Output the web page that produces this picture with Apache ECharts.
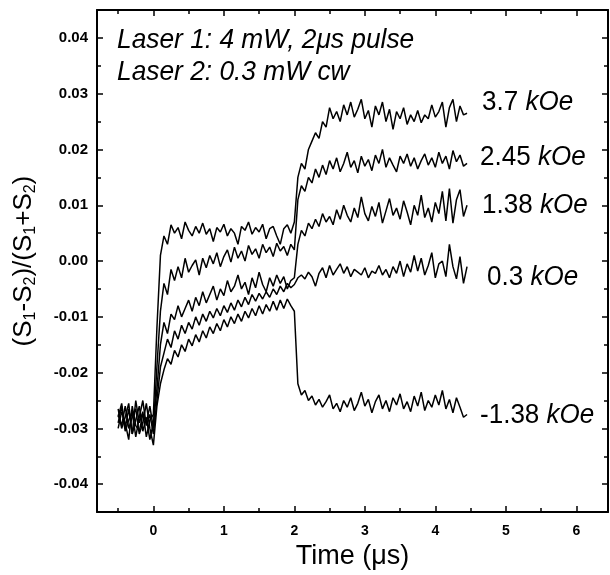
<!DOCTYPE html>
<html><head><meta charset="utf-8">
<script src="https://cdn.jsdelivr.net/npm/echarts@6/dist/echarts.min.js"></script>
<style>html,body{margin:0;padding:0;background:#fff}#c{width:610px;height:575px}</style>
</head><body><div id="c"></div>
<script>
// Time in microseconds
const time = [-0.5,-0.45,-0.4,-0.35,-0.3,-0.25,-0.2,-0.15,-0.1,-0.05,
0,0.05,0.1,0.15,0.2,0.25,0.3,0.35,0.4,0.45,
0.5,0.55,0.6,0.65,0.7,0.75,0.8,0.85,0.9,0.95,
1,1.05,1.1,1.15,1.2,1.25,1.3,1.35,1.4,1.45,
1.5,1.55,1.6,1.65,1.7,1.75,1.8,1.85,1.9,1.95,
2,2.05,2.1,2.15,2.2,2.25,2.3,2.35,2.4,2.45,
2.5,2.55,2.6,2.65,2.7,2.75,2.8,2.85,2.9,2.95,
3,3.05,3.1,3.15,3.2,3.25,3.3,3.35,3.4,3.45,
3.5,3.55,3.6,3.65,3.7,3.75,3.8,3.85,3.9,3.95,
4,4.05,4.1,4.15,4.2,4.25,4.3,4.35,4.4,4.45];

const s37 = [-0.0280,-0.0255,-0.0300,-0.0265,-0.0310,-0.0250,-0.0290,-0.0270,-0.0315,-0.0285,
-0.0275,-0.0120,0.0010,0.0045,0.0030,0.0065,0.0050,0.0060,0.0040,0.0070,
0.0055,0.0045,0.0062,0.0050,0.0068,0.0048,0.0058,0.0035,0.0060,0.0052,
0.0066,0.0045,0.0058,0.0050,0.0030,0.0062,0.0055,0.0070,0.0048,0.0060,
0.0052,0.0066,0.0040,0.0058,0.0062,0.0045,0.0030,0.0058,0.0065,0.0050,
0.0070,0.0150,0.0175,0.0165,0.0200,0.0215,0.0230,0.0220,0.0250,0.0240,
0.0275,0.0255,0.0268,0.0250,0.0280,0.0262,0.0285,0.0258,0.0272,0.0290,
0.0255,0.0270,0.0240,0.0278,0.0262,0.0285,0.0250,0.0272,0.0236,0.0268,
0.0255,0.0275,0.0245,0.0262,0.0250,0.0270,0.0248,0.0262,0.0255,0.0280,
0.0258,0.0268,0.0285,0.0240,0.0275,0.0290,0.0250,0.0278,0.0262,0.0265];

const s245 = [-0.0300,-0.0270,-0.0290,-0.0320,-0.0260,-0.0295,-0.0305,-0.0275,-0.0290,-0.0260,
-0.0300,-0.0190,-0.0090,-0.0040,-0.0060,-0.0015,-0.0035,-0.0010,-0.0030,0.0005,
-0.0020,-0.0008,0.0002,-0.0025,0.0005,-0.0012,0.0010,-0.0005,0.0015,-0.0010,
0.0008,0.0020,-0.0002,0.0025,0.0005,0.0018,0.0000,0.0028,0.0012,0.0022,
0.0005,0.0030,0.0015,0.0025,0.0008,0.0032,0.0018,0.0026,0.0010,0.0030,
0.0020,0.0110,0.0135,0.0125,0.0150,0.0140,0.0165,0.0150,0.0172,0.0155,
0.0180,0.0165,0.0185,0.0160,0.0175,0.0195,0.0168,0.0180,0.0158,0.0188,
0.0170,0.0182,0.0162,0.0190,0.0175,0.0200,0.0168,0.0185,0.0172,0.0160,
0.0188,0.0175,0.0192,0.0170,0.0185,0.0165,0.0180,0.0192,0.0172,0.0185,
0.0168,0.0195,0.0175,0.0188,0.0165,0.0198,0.0178,0.0190,0.0170,0.0175];

const s138 = [-0.0265,-0.0300,-0.0280,-0.0255,-0.0310,-0.0285,-0.0260,-0.0305,-0.0280,-0.0320,
-0.0290,-0.0230,-0.0150,-0.0110,-0.0130,-0.0095,-0.0105,-0.0080,-0.0100,-0.0085,
-0.0070,-0.0090,-0.0065,-0.0080,-0.0055,-0.0075,-0.0060,-0.0045,-0.0070,-0.0050,
-0.0062,-0.0035,-0.0055,-0.0045,-0.0025,-0.0050,-0.0038,-0.0060,-0.0030,-0.0048,
-0.0020,-0.0042,-0.0055,-0.0030,-0.0045,-0.0025,-0.0040,-0.0028,-0.0050,-0.0035,
-0.0030,0.0030,0.0055,0.0045,0.0068,0.0058,0.0075,0.0062,0.0085,0.0070,
0.0080,0.0065,0.0092,0.0075,0.0100,0.0082,0.0070,0.0095,0.0078,0.0115,
0.0085,0.0072,0.0098,0.0080,0.0105,0.0068,0.0090,0.0112,0.0082,0.0095,
0.0075,0.0108,0.0088,0.0065,0.0100,0.0082,0.0118,0.0078,0.0095,0.0070,
0.0105,0.0085,0.0125,0.0072,0.0130,0.0068,0.0110,0.0128,0.0080,0.0100];

const s03 = [-0.0290,-0.0260,-0.0305,-0.0285,-0.0270,-0.0315,-0.0280,-0.0250,-0.0295,-0.0275,
-0.0310,-0.0250,-0.0190,-0.0165,-0.0140,-0.0155,-0.0125,-0.0140,-0.0115,-0.0130,
-0.0110,-0.0122,-0.0100,-0.0115,-0.0095,-0.0108,-0.0090,-0.0102,-0.0085,-0.0098,
-0.0080,-0.0092,-0.0075,-0.0088,-0.0070,-0.0082,-0.0065,-0.0078,-0.0060,-0.0072,
-0.0058,-0.0068,-0.0055,-0.0065,-0.0050,-0.0060,-0.0045,-0.0055,-0.0040,-0.0048,
-0.0042,-0.0030,-0.0025,-0.0032,-0.0020,-0.0028,-0.0045,-0.0022,-0.0012,-0.0030,
-0.0008,-0.0025,-0.0015,-0.0005,-0.0022,-0.0010,-0.0028,-0.0015,-0.0020,-0.0025,
-0.0012,-0.0030,-0.0018,-0.0022,-0.0008,-0.0025,-0.0015,-0.0030,-0.0010,-0.0022,
0.0000,-0.0028,-0.0005,-0.0020,0.0010,-0.0018,0.0005,-0.0025,-0.0008,0.0015,
-0.0030,-0.0005,0.0000,-0.0028,0.0030,-0.0010,-0.0032,0.0008,-0.0040,-0.0010];

const sm138 = [-0.0275,-0.0295,-0.0260,-0.0300,-0.0280,-0.0265,-0.0310,-0.0290,-0.0255,-0.0300,
-0.0330,-0.0260,-0.0220,-0.0195,-0.0175,-0.0185,-0.0160,-0.0172,-0.0150,-0.0162,
-0.0140,-0.0152,-0.0132,-0.0145,-0.0125,-0.0138,-0.0118,-0.0130,-0.0112,-0.0125,
-0.0105,-0.0118,-0.0100,-0.0112,-0.0095,-0.0108,-0.0090,-0.0102,-0.0085,-0.0098,
-0.0080,-0.0095,-0.0078,-0.0090,-0.0072,-0.0088,-0.0070,-0.0085,-0.0068,-0.0080,
-0.0090,-0.0220,-0.0240,-0.0232,-0.0250,-0.0242,-0.0258,-0.0248,-0.0262,-0.0252,
-0.0240,-0.0265,-0.0255,-0.0270,-0.0250,-0.0262,-0.0245,-0.0268,-0.0255,-0.0235,
-0.0260,-0.0248,-0.0272,-0.0252,-0.0240,-0.0265,-0.0250,-0.0270,-0.0245,-0.0258,
-0.0238,-0.0265,-0.0252,-0.0270,-0.0242,-0.0260,-0.0235,-0.0268,-0.0250,-0.0262,
-0.0240,-0.0258,-0.0232,-0.0265,-0.0248,-0.0272,-0.0245,-0.0262,-0.0280,-0.0275];

const fieldValues = ['3.7', '2.45', '1.38', '0.3', '-1.38'];
const seriesData = [s37, s245, s138, s03, sm138];
const yMajorTicks = [-0.04,-0.03,-0.02,-0.01,0,0.01,0.02,0.03,0.04];
const yMinorTicks = [-0.045,-0.035,-0.025,-0.015,-0.005,0.005,0.015,0.025,0.035,0.045];
const xMajorTicks = [0,1,2,3,4,5,6];
const xMinorTicks = [-0.5,0.5,1.5,2.5,3.5,4.5,5.5];
const notes = ['Laser 1: 4 mW, 2\u03bcs pulse', 'Laser 2: 0.3 mW cw'];

const FONT = '"Liberation Sans", Arial, sans-serif';
const chart = echarts.init(document.getElementById('c'));

const XMIN = -0.8, XMAX = 6.45, YMIN = -0.045, YMAX = 0.045;

function xAx(pos, ticks, len, showLine, showLabel, extra) {
  return Object.assign({
    type: 'value', position: pos, min: XMIN, max: XMAX,
    axisLine: {show: showLine, onZero: false, lineStyle: {color: '#000', width: 2}},
    axisTick: {show: true, inside: true, length: len, customValues: ticks, lineStyle: {color: '#000', width: 1.5}},
    axisLabel: {show: showLabel, customValues: xMajorTicks, margin: 12, color: '#000', fontFamily: FONT, fontSize: 14, fontWeight: 'bold'},
    splitLine: {show: false}
  }, extra || {});
}
function yAx(pos, ticks, len, showLine, showLabel, extra) {
  return Object.assign({
    type: 'value', position: pos, min: YMIN, max: YMAX,
    axisLine: {show: showLine, onZero: false, lineStyle: {color: '#000', width: 2}},
    axisTick: {show: true, inside: true, length: len, customValues: ticks, lineStyle: {color: '#000', width: 1.5}},
    axisLabel: {show: showLabel, customValues: yMajorTicks, margin: 9, color: '#000', fontFamily: FONT, fontSize: 15, fontWeight: 'bold',
      formatter: v => v.toFixed(2)},
    splitLine: {show: false}
  }, extra || {});
}

const labelTops = [102, 157, 205, 277, 415];
const labelLefts = [482, 480, 482, 487, 480];

const graphics = [];
notes.forEach((t, i) => {
  graphics.push({type: 'text', x: 117, y: 40 + i * 32, scaleX: 0.94,
    style: {text: t, font: 'italic 28px ' + FONT, fill: '#000', verticalAlign: 'middle'}});
});
fieldValues.forEach((v, i) => {
  graphics.push({type: 'text', x: labelLefts[i], y: labelTops[i], scaleX: 0.93,
    style: {text: '{n|' + v + ' }{k|kOe}', verticalAlign: 'middle', fill: '#000',
      rich: {n: {fontFamily: FONT, fontSize: 28, fill: '#000'}, k: {fontFamily: FONT, fontSize: 28, fontStyle: 'italic', fill: '#000'}}}});
});

chart.setOption({
  animation: false,
  backgroundColor: '#fff',
  grid: {left: 97, right: 2, top: 10, bottom: 52},
  xAxis: [
    xAx('bottom', xMajorTicks, 6, true, true, {
      name: 'Time (\u03bcs)', nameLocation: 'middle', nameGap: 24,
      nameTextStyle: {fontFamily: FONT, fontSize: 27, color: '#000'}}),
    xAx('top', xMajorTicks, 6, true, false),
    xAx('bottom', xMinorTicks, 4, false, false),
    xAx('top', xMinorTicks, 4, false, false)
  ],
  yAxis: [
    yAx('left', yMajorTicks, 6, true, true, {
      name: '(S{s|1}-S{s|2})/(S{s|1}+S{s|2})', nameLocation: 'middle', nameGap: 60, nameRotate: 90,
      nameTextStyle: {fontFamily: FONT, fontSize: 26, color: '#000', verticalAlign: 'bottom',
        rich: {s: {fontFamily: FONT, fontSize: 16, color: '#000', verticalAlign: 'bottom', padding: [0, 0, -2, 0]}}}}),
    yAx('right', yMajorTicks, 6, true, false),
    yAx('left', yMinorTicks, 4, false, false),
    yAx('right', yMinorTicks, 4, false, false)
  ],
  series: seriesData.map((d, i) => ({
    type: 'line', name: fieldValues[i] + ' kOe', xAxisIndex: 0, yAxisIndex: 0,
    data: time.map((t, j) => [t, d[j]]),
    showSymbol: false, symbol: 'none',
    lineStyle: {color: '#000', width: 1.5}
  })),
  graphic: graphics
});
</script></body></html>
